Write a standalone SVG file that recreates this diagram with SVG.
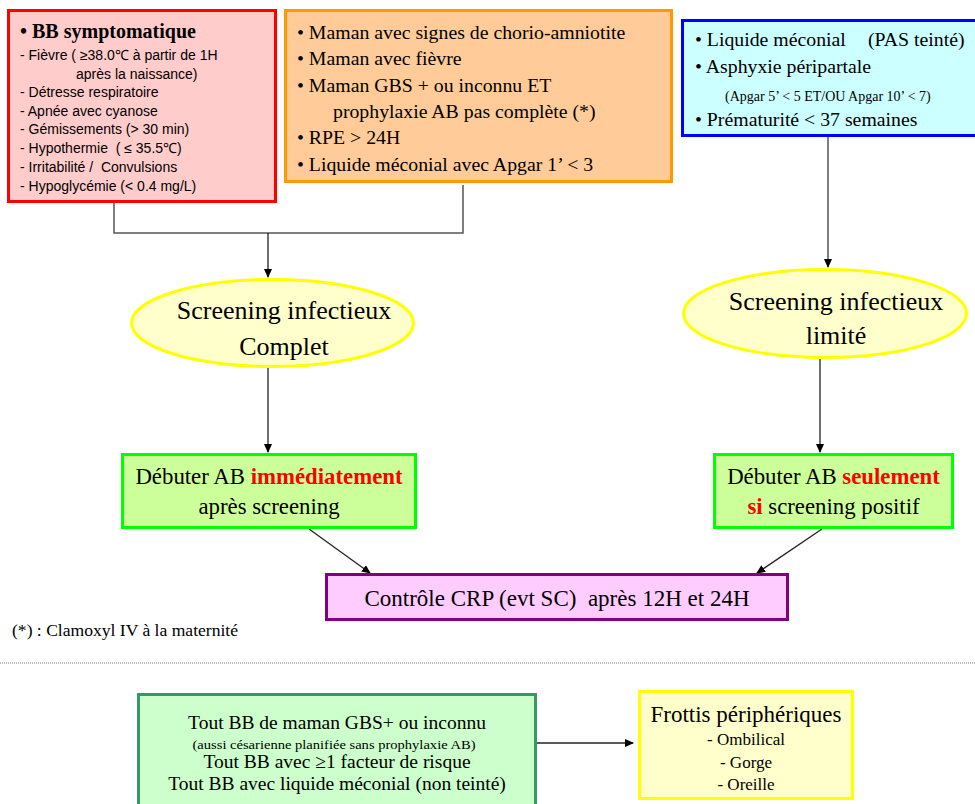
<svg xmlns="http://www.w3.org/2000/svg" width="975" height="804" viewBox="0 0 975 804">
  <style>
    .serif { font-family: "Liberation Serif", "Times New Roman", serif; fill: #000; }
    .sans { font-family: "Liberation Sans", Arial, sans-serif; fill: #000; white-space: pre; }
    .mid { text-anchor: middle; }
    .hot { fill: #FF0000; font-weight: bold; }
    .conn { fill: none; stroke: #222; stroke-width: 1.3; }
    .stub { fill: none; stroke: #555; stroke-width: 1.5; }
  </style>
  <defs>
    <marker id="arrow" markerUnits="userSpaceOnUse" markerWidth="9" markerHeight="8" refX="8" refY="4" orient="auto">
      <path d="M0,0 L9,4 L0,8 z" fill="#000"/>
    </marker>
  </defs>

  <rect width="975" height="804" fill="#FFFFFF"/>

  <!-- connectors -->
  <g id="connectors">
    <path class="stub" d="M114 203 V233 H463 V185"/>
    <path class="conn" d="M268 233 V277" marker-end="url(#arrow)"/>
    <path class="stub" d="M828 137 V267" marker-end="url(#arrow)"/>
    <path class="conn" d="M268 368 V452" marker-end="url(#arrow)"/>
    <path class="conn" d="M820 359 V452" marker-end="url(#arrow)"/>
    <path class="conn" d="M309 529 L370 573" marker-end="url(#arrow)"/>
    <path class="conn" d="M822 529 L757 573" marker-end="url(#arrow)"/>
    <path class="conn" d="M537 743 H633" marker-end="url(#arrow)"/>
    <line x1="0" y1="663" x2="975" y2="663" stroke="#777" stroke-width="1" stroke-dasharray="1,1"/>
  </g>

  <!-- symptomatic baby -->
  <g id="bb-symptomatique">
    <rect x="8.5" y="10.5" width="267" height="191" fill="#FFCCCC" stroke="#FF0000" stroke-width="3"/>
    <text class="serif" x="20" y="38" font-size="20" font-weight="bold">• BB symptomatique</text>
    <g class="sans" font-size="14">
      <text x="20" y="60" xml:space="preserve">- Fièvre ( ≥38.0℃ à partir de 1H</text>
      <text x="76" y="78.5">après la naissance)</text>
      <text x="20" y="97">- Détresse respiratoire</text>
      <text x="20" y="115.5">- Apnée avec cyanose</text>
      <text x="20" y="134">- Gémissements (&gt; 30 min)</text>
      <text x="20" y="153" xml:space="preserve">- Hypothermie  ( ≤ 35.5℃)</text>
      <text x="20" y="172" xml:space="preserve">- Irritabilité /  Convulsions</text>
      <text x="20" y="191">- Hypoglycémie (&lt; 0.4 mg/L)</text>
    </g>
  </g>

  <!-- maternal risk factors -->
  <g id="facteurs-maternels">
    <rect x="285.5" y="10.5" width="386" height="171" fill="#FFCC99" stroke="#FF9900" stroke-width="3"/>
    <g class="serif" font-size="19.8">
      <text x="297" y="39">• Maman avec signes de chorio-amniotite</text>
      <text x="297" y="64.5">• Maman avec fièvre</text>
      <text x="297" y="91.5">• Maman GBS + ou inconnu ET</text>
      <text x="333" y="118">prophylaxie AB pas complète (*)</text>
      <text x="297" y="143.5">• RPE &gt; 24H</text>
      <text x="297" y="170.5">• Liquide méconial avec Apgar 1’ &lt; 3</text>
    </g>
  </g>

  <!-- limited-screening criteria -->
  <g id="criteres-limites">
    <rect x="682.5" y="20.5" width="300" height="115" fill="#CCFFFF" stroke="#0000FF" stroke-width="3"/>
    <g class="serif" font-size="19.8">
      <text x="695" y="46">• Liquide méconial<tspan x="868">(PAS teinté)</tspan></text>
      <text x="695" y="73">• Asphyxie péripartale</text>
      <text x="725" y="100.5" font-size="14">(Apgar 5’ &lt; 5 ET/OU Apgar 10’ &lt; 7)</text>
      <text x="695" y="125.5">• Prématurité &lt; 37 semaines</text>
    </g>
  </g>

  <!-- screening ellipses -->
  <g id="screening-complet">
    <ellipse cx="272.5" cy="323" rx="141" ry="43.5" fill="#FFFFCC" stroke="#FFFF00" stroke-width="3"/>
    <text class="serif mid" x="284" y="319" font-size="26">Screening infectieux</text>
    <text class="serif mid" x="284" y="355" font-size="26">Complet</text>
  </g>
  <g id="screening-limite">
    <ellipse cx="825" cy="313.5" rx="141.5" ry="44" fill="#FFFFCC" stroke="#FFFF00" stroke-width="3"/>
    <text class="serif mid" x="836" y="310" font-size="26">Screening infectieux</text>
    <text class="serif mid" x="836" y="344" font-size="26">limité</text>
  </g>

  <!-- antibiotic decisions -->
  <g id="ab-immediat">
    <rect x="122.5" y="454.5" width="293" height="73" fill="#CCFF99" stroke="#00FF00" stroke-width="3"/>
    <text class="serif mid" x="269" y="484" font-size="22.8">Débuter AB <tspan class="hot">immédiatement</tspan></text>
    <text class="serif mid" x="269" y="514" font-size="22.8">après screening</text>
  </g>
  <g id="ab-si-positif">
    <rect x="714.5" y="454.5" width="238" height="73" fill="#CCFF99" stroke="#00FF00" stroke-width="3"/>
    <text class="serif mid" x="833.5" y="484" font-size="22.8">Débuter AB <tspan class="hot">seulement</tspan></text>
    <text class="serif mid" x="833.5" y="514" font-size="22.8"><tspan class="hot">si</tspan> screening positif</text>
  </g>

  <!-- CRP follow-up -->
  <g id="controle-crp">
    <rect x="326.5" y="574.5" width="461" height="45" fill="#FFCCFF" stroke="#800080" stroke-width="3"/>
    <text class="serif mid" x="557" y="606" font-size="23" xml:space="preserve">Contrôle CRP (evt SC)  après 12H et 24H</text>
  </g>

  <text id="note" class="serif" x="12" y="636" font-size="16" textLength="226" lengthAdjust="spacingAndGlyphs">(*) : Clamoxyl IV à la maternité</text>

  <!-- peripheral swabs -->
  <g id="indications-frottis">
    <rect x="138.5" y="694.5" width="397" height="120" fill="#CCFFCC" stroke="#339966" stroke-width="3"/>
    <text class="serif mid" x="337" y="728.5" font-size="19.5">Tout BB de maman GBS+ ou inconnu</text>
    <text class="serif mid" x="334" y="749" font-size="12.5" textLength="283" lengthAdjust="spacingAndGlyphs">(aussi césarienne planifiée sans prophylaxie AB)</text>
    <text class="serif mid" x="337" y="768" font-size="19.5">Tout BB avec ≥1 facteur de risque</text>
    <text class="serif mid" x="337" y="790" font-size="19.5">Tout BB avec liquide méconial (non teinté)</text>
  </g>
  <g id="frottis">
    <rect x="639.5" y="691.5" width="213" height="107" fill="#FFFFCC" stroke="#FFFF00" stroke-width="3"/>
    <text class="serif mid" x="746" y="722" font-size="23">Frottis périphériques</text>
    <text class="serif mid" x="746" y="745" font-size="17">- Ombilical</text>
    <text class="serif mid" x="746" y="768" font-size="17">- Gorge</text>
    <text class="serif mid" x="746" y="790" font-size="17">- Oreille</text>
  </g>
</svg>
